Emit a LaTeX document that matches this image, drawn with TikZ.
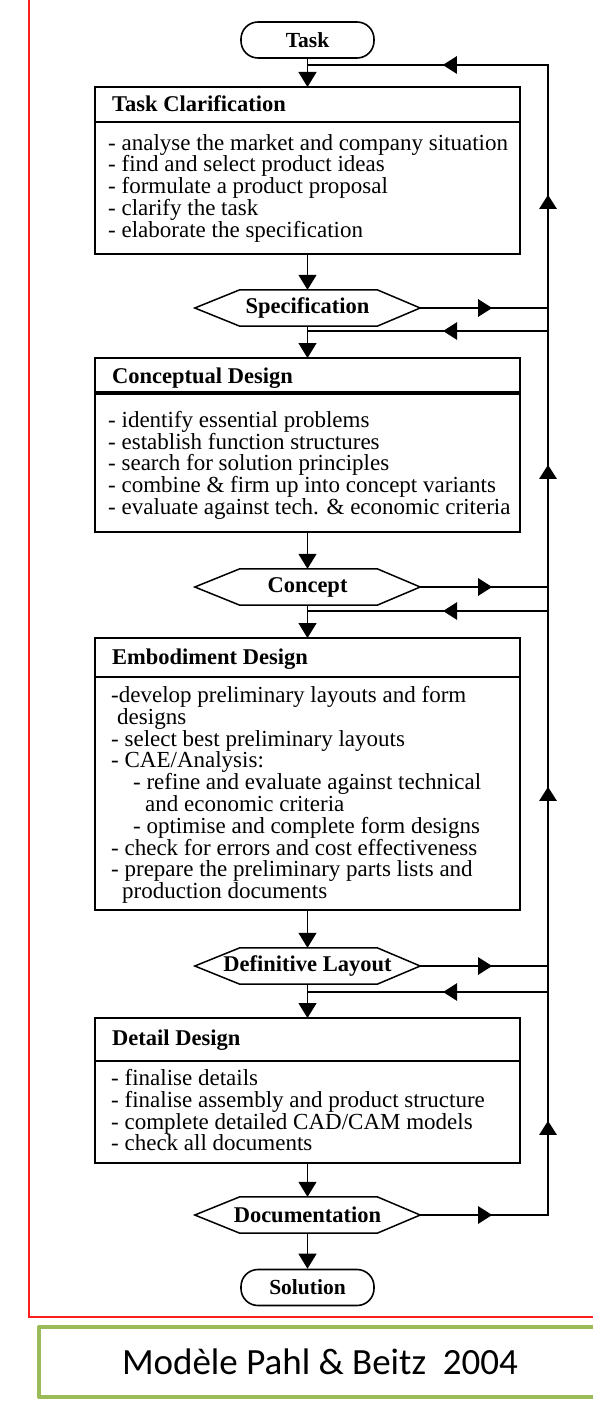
\documentclass[tikz,border=0pt]{standalone}
\usepackage{fontspec}
\setmainfont{Liberation Serif}
\newfontfamily\calib{Carlito}
\usetikzlibrary{arrows.meta,decorations.markings,calc}
\definecolor{frameRed}{RGB}{255,30,30}
\definecolor{capGreen}{RGB}{155,187,89}
\newcommand{\fl}{\rule{0pt}{16pt}}
\newcommand{\hexpath}[1]{\draw[hexline] (#1.west) -- ([xshift=45pt]#1.north west) -- ([xshift=-43pt]#1.north east) -- (#1.east) -- ([xshift=-43pt]#1.south east) -- ([xshift=45pt]#1.south west) -- cycle;}
\tikzset{
  tri/.tip={Triangle[width=17pt,length=14pt]},
  boxnode/.style={draw, line width=2.6pt, minimum width=425pt, inner sep=0pt, outer sep=0pt},
  thinbox/.style={boxnode, line width=1.6pt},
  hdr/.style={line width=2.6pt},
  thinhdr/.style={line width=2pt},
  term/.style={draw, line width=1.6pt, rounded corners=17pt, minimum width=133pt, minimum height=36pt, inner sep=0pt, font=\fontsize{21.5}{24}\selectfont\bfseries},
  hexnode/.style={minimum width=225pt, minimum height=36pt, inner sep=0pt, font=\fontsize{22.5}{24}\selectfont\bfseries},
  hexline/.style={line width=1.5pt, line join=miter},
  title/.style={anchor=base west, inner sep=0pt, font=\fontsize{22.5}{24}\selectfont\bfseries},
  body/.style={anchor=north west, inner sep=0pt, align=left, font=\fontsize{23}{21.8}\selectfont},
  conn/.style={line width=1.3pt, -{Triangle[width=18pt,length=15pt]}},
  fb/.style={line width=2.6pt, line join=miter},
  midarrow/.style={postaction={decorate, decoration={markings, mark=at position #1 with {\arrow{tri}}}}},
  redframe/.style={draw=frameRed, line width=1.8pt},
  greenbox/.style={draw=capGreen, line width=4pt, line join=round},
  greentext/.style={anchor=base, inner sep=0pt, font=\calib\fontsize{37}{40}\selectfont}
}
\begin{document}
\begin{tikzpicture}[x=1pt,y=-1pt]
\useasboundingbox (0,0) rectangle (593,1420);
\clip (0,0) rectangle (593,1420);
\fill[white] (0,0) rectangle (593,1420);
% frames
\draw[redframe] (29,-5) -- (29,1317) -- (600,1317);
\draw[greenbox] (605,1327) -- (39,1327) -- (39,1397) -- (605,1397);
\node[greentext] (cap) at (320,1374) {Modèle Pahl \& Beitz\ \ 2004};

% terminals
\node[term] (task) at (307.5,40) {Task};
\node[term] (sol) at (307.5,1287.5) {Solution};

% boxes
\node[boxnode, minimum height=167pt] (b1) at (307.5,170.5) {};
\draw[hdr] ($(b1.north west)+(0,35)$) -- ($(b1.north east)+(0,35)$);
\node[title] (t1) at (112,112) {Task Clarification};
\node[body] (x1) at (108,134) {\fl- analyse the market and company situation\\
- find and select product ideas\\
- formulate a product proposal\\
- clarify the task\\
- elaborate the specification};

\node[boxnode, minimum height=174pt] (b2) at (307.5,445) {};
\draw[hdr, line width=3.2pt] ($(b2.north west)+(0,35)$) -- ($(b2.north east)+(0,35)$);
\node[title] (t2) at (112,383) {Conceptual Design};
\node[body] (x2) at (108,411) {\fl- identify essential problems\\
- establish function structures\\
- search for solution principles\\
- combine \& firm up into concept variants\\
- evaluate against tech. \& economic criteria};

\node[thinbox, minimum height=272pt] (b3) at (307.5,774) {};
\draw[thinhdr, line width=2.6pt] ($(b3.north west)+(0,39)$) -- ($(b3.north east)+(0,39)$);
\node[title] (t3) at (112,664) {Embodiment Design};
\node[body] (x3) at (111,686) {\fl-develop preliminary layouts and form\\
\hspace*{6pt}designs\\
- select best preliminary layouts\\
- CAE/Analysis:\\
\hspace*{22pt}- refine and evaluate against technical\\
\hspace*{34pt}and economic criteria\\
\hspace*{22pt}- optimise and complete form designs\\
- check for errors and cost effectiveness\\
- prepare the preliminary parts lists and\\
\hspace*{11pt}production documents};

\node[boxnode, minimum height=145pt] (b4) at (307.5,1090.5) {};
\draw[hdr] ($(b4.north west)+(0,43)$) -- ($(b4.north east)+(0,43)$);
\node[title] (t4) at (112,1045) {Detail Design};
\node[body] (x4) at (111,1069) {\fl- finalise details\\
- finalise assembly and product structure\\
- complete detailed CAD/CAM models\\
- check all documents};

% hexagons
\node[hexnode] (h1) at (307.5,308) {Specification};
\hexpath{h1}
\node[hexnode] (h2) at (307.5,587) {Concept};
\hexpath{h2}
\node[hexnode] (h3) at (307.5,966) {Definitive Layout};
\hexpath{h3}
\node[hexnode] (h4) at (307.5,1215) {Documentation};
\hexpath{h4}

% main connectors
\draw[conn] (task) -- (b1);
\draw[conn] (b1) -- (h1);
\draw[conn] (h1) -- (b2);
\draw[conn] (b2) -- (h2);
\draw[conn] (h2) -- (b3);
\draw[conn] (b3) -- (h3);
\draw[conn] (h3) -- (b4);
\draw[conn] (b4) -- (h4);
\draw[conn] (h4) -- (sol);

% feedback loop
\coordinate (fbtop) at (548,65);
\coordinate (fbbot) at (548,1215);
\coordinate (r1) at (548,331);
\coordinate (r2) at (548,611);
\coordinate (r3) at (548,992);
\draw[fb, postaction={decorate, decoration={markings,
   mark=at position 72pt with {\arrow{tri}},
   mark=at position 222pt with {\arrow{tri}},
   mark=at position 556pt with {\arrow{tri}},
   mark=at position 878pt with {\arrow{tri}},
   mark=at position 1148pt with {\arrow{tri}},
   mark=at position 1383pt with {\arrow{tri}}}}]
  (h4.east) -- (fbbot) -- (fbtop) -- (fbtop -| task);
\draw[fb, midarrow=72pt] (h1.east) -- (h1.east -| fbtop);
\draw[fb, midarrow=72pt] (h2.east) -- (h2.east -| fbtop);
\draw[fb, midarrow=72pt] (h3.east) -- (h3.east -| fbtop);
\draw[fb, midarrow=105pt] (r1) -- (r1 -| task);
\draw[fb, midarrow=105pt] (r2) -- (r2 -| task);
\draw[fb, midarrow=105pt] (r3) -- (r3 -| task);
\end{tikzpicture}
\end{document}
